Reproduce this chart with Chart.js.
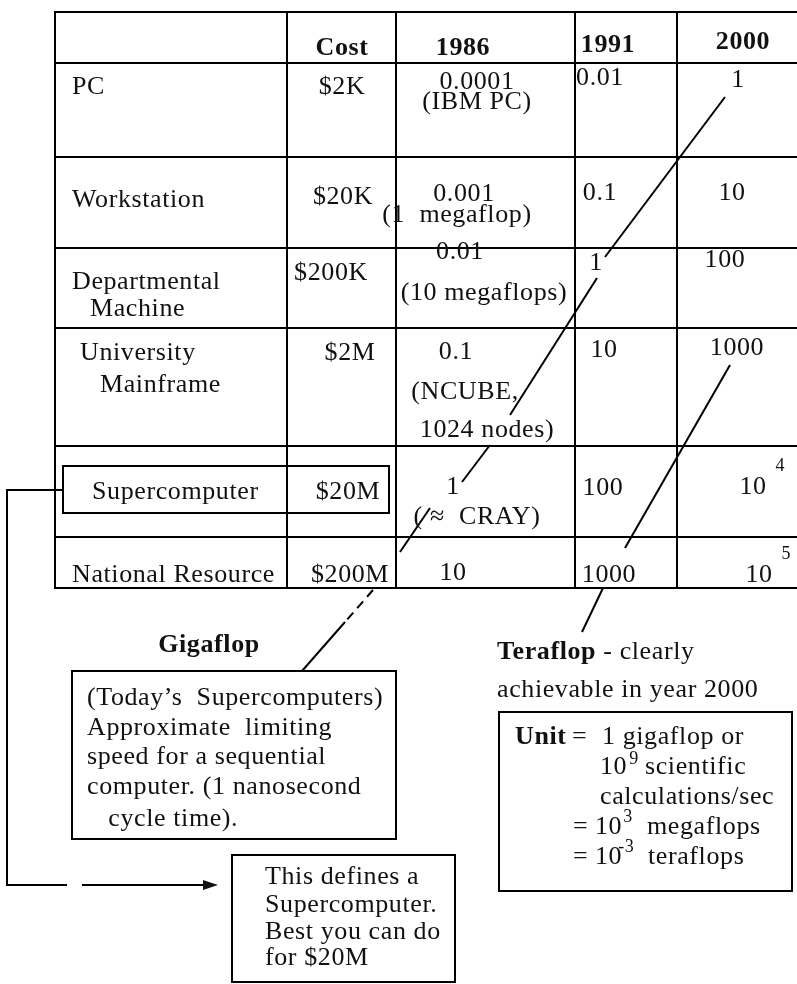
<!DOCTYPE html>
<html lang="en">
<head>
<meta charset="UTF-8" />
<title>Supercomputer speed table</title>
<style>
  body { margin: 0; padding: 0; background: #fff; }
  canvas { display: block; }
</style>
</head>
<body>
<canvas id="speed-table" width="797" height="984"></canvas>
<script src="https://cdn.jsdelivr.net/npm/chart.js"></script>
<script>
// table content
var headers = ["Cost", "1986", "1991", "2000"];
var machines = [["PC"], ["Workstation"], ["Departmental", "Machine"], ["University", "Mainframe"], ["Supercomputer"], ["National Resource"]];
var costs = ["$2K", "$20K", "$200K", "$2M", "$20M", "$200M"];
var speed1986 = ["0.0001", "0.001", "0.01", "0.1", "1", "10"];
var notes1986 = [["(IBM PC)"], ["(1  megaflop)"], ["(10 megaflops)"], ["(NCUBE,", "1024 nodes)"], ["( \u2248  CRAY)"], []];
var speed1991 = ["0.01", "0.1", "1", "10", "100", "1000"];
var speed2000 = ["1", "10", "100", "1000", "10^4", "10^5"];

// side notes
var gigaTitle = "Gigaflop";
var gigaNote = ["(Today\u2019s  Supercomputers)", "Approximate  limiting", "speed for a sequential", "computer. (1 nanosecond", "   cycle time)."];
var superNote = ["This defines a", "Supercomputer.", "Best you can do", "for $20M"];
var teraTitle = ["Teraflop", " - clearly"];
var teraNote = "achievable in year 2000";

// layout (data units of the two linear scales)
var colEdges = [55, 287, 396, 575, 677];
var rowEdges = [12, 63, 157, 248, 328, 446, 537, 588];
var headerPos = [[342, 48], [463, 48], [608, 45], [743, 42]];
var namePos = [[[72, 87]], [[72, 200]], [[72, 282], [90, 309]], [[80, 353], [100, 385]], [[92, 492]], [[72, 575]]];
var costPos = [[342, 87], [343, 197], [331, 273], [350, 353], [348, 492], [350, 575]];
var pos1986 = [[477, 82], [464, 194], [460, 252], [456, 352], [453, 487], [453, 573]];
var notePos1986 = [[[477, 102]], [[457, 215]], [[484, 293]], [[465, 392], [487, 430]], [[477, 517]], []];
var pos1991 = [[600, 78], [600, 193], [596, 263], [604, 350], [603, 488], [609, 575]];
var pos2000 = [[738, 80], [732, 193], [725, 260], [737, 348], [753, 487], [759, 575]];

var gigaLine = [
  [[725, 97], [605, 257]],
  [[597, 278], [510, 415]],
  [[490, 445], [462, 482]],
  [[430, 508], [400, 552]],
  [[345, 622], [302, 671]]
];
var gigaDash = [[373, 590], [345, 622]];
var teraLine = [
  [[730, 365], [625, 548]],
  [[603, 588], [582, 632]]
];
var connector = [[[63, 490], [7, 490], [7, 885], [67, 885]], [[82, 885], [207, 885]]];

var FONT = '"Liberation Serif", "Times New Roman", serif';

function toPoints(seg) {
  return seg.map(function (p) { return { x: p[0], y: p[1] }; });
}

var datasets = [];
gigaLine.concat(teraLine).concat(connector).forEach(function (seg) {
  datasets.push({ data: toPoints(seg), showLine: true, borderColor: "#000", borderWidth: 2, pointRadius: 0, clip: false, tension: 0 });
});
datasets.push({ data: toPoints(gigaDash), showLine: true, borderColor: "#000", borderWidth: 2, borderDash: [9, 6], pointRadius: 0, clip: false });

var tableText = {
  id: "tableText",
  afterDraw: function (chart) {
    var ctx = chart.ctx;
    var xs = chart.scales.x, ys = chart.scales.y;
    function X(v) { return xs.getPixelForValue(v); }
    function Y(v) { return ys.getPixelForValue(v); }

    function text(str, p, align, weight, size) {
      ctx.font = (weight || "normal") + " " + (size || 26) + "px " + FONT;
      ctx.textAlign = align || "left";
      ctx.fillText(str, X(p[0]), Y(p[1]));
    }
    // "10^4" style value: base placed at p, exponent raised to the right
    function power(str, p, align, gap, raise) {
      var parts = str.split("^");
      ctx.font = "normal 26px " + FONT;
      var w = ctx.measureText(parts[0]).width;
      var left = align === "center" ? X(p[0]) - w / 2 : X(p[0]);
      ctx.textAlign = "left";
      ctx.fillText(parts[0], left, Y(p[1]));
      if (parts[1]) {
        ctx.font = "normal 18px " + FONT;
        ctx.fillText(parts[1], left + w + gap, Y(p[1]) - raise);
      }
    }
    function box(x1, y1, x2, y2) {
      ctx.strokeRect(X(x1), Y(y1), X(x2) - X(x1), Y(y2) - Y(y1));
    }

    ctx.save();
    ctx.fillStyle = "#111";
    ctx.strokeStyle = "#000";
    ctx.lineWidth = 2;
    ctx.textBaseline = "middle";
    ctx.letterSpacing = "0.6px";

    headers.forEach(function (h, i) { text(h, headerPos[i], "center", "bold"); });
    machines.forEach(function (lines, r) {
      lines.forEach(function (l, k) { text(l, namePos[r][k], "left"); });
      text(costs[r], costPos[r], "center");
      text(speed1986[r], pos1986[r], "center");
      notes1986[r].forEach(function (n, k) { text(n, notePos1986[r][k], "center"); });
      text(speed1991[r], pos1991[r], "center");
      power(speed2000[r], pos2000[r], "center", 9, 21);
    });

    // highlight around the supercomputer row
    box(63, 466, 389, 513);

    // arrow head of the connector
    ctx.beginPath();
    ctx.moveTo(X(218), Y(885));
    ctx.lineTo(X(203), Y(880));
    ctx.lineTo(X(203), Y(890));
    ctx.closePath();
    ctx.fill();

    // gigaflop note
    text(gigaTitle, [209, 645], "center", "bold");
    box(72, 671, 396, 839);
    var gy = [698, 728, 757, 787, 819];
    gigaNote.forEach(function (l, i) { text(l, [87, gy[i]], "left"); });

    // supercomputer definition
    box(232, 855, 455, 982);
    var sy = [877, 905, 932, 958];
    superNote.forEach(function (l, i) { text(l, [265, sy[i]], "left"); });

    // teraflop note
    text(teraTitle[0], [497, 652], "left", "bold");
    ctx.font = "bold 26px " + FONT;
    var tw = ctx.measureText(teraTitle[0]).width;
    ctx.font = "normal 26px " + FONT;
    ctx.textAlign = "left";
    ctx.fillText(teraTitle[1], X(497) + tw, Y(652));
    text(teraNote, [497, 690], "left");

    // unit box
    box(499, 712, 792, 891);
    text("Unit", [515, 737], "left", "bold");
    text("=", [572, 737], "left");
    text("1 gigaflop or", [602, 737], "left");
    power("10^9", [600, 767], "left", 2, 8);
    text("scientific", [645, 767], "left");
    text("calculations/sec", [600, 797], "left");
    text("=", [573, 827], "left");
    power("10^3", [595, 827], "left", 1, 10);
    text("megaflops", [647, 827], "left");
    text("=", [573, 857], "left");
    power("10^-3", [595, 857], "left", -4, 10);
    text("teraflops", [648, 857], "left");

    ctx.restore();
  }
};

new Chart(document.getElementById("speed-table"), {
  type: "scatter",
  data: { datasets: datasets },
  plugins: [tableText],
  options: {
    responsive: false,
    animation: false,
    layout: { padding: { left: 55, top: 12, right: 0, bottom: 396 } },
    plugins: { legend: { display: false }, tooltip: { enabled: false } },
    scales: {
      x: {
        type: "linear", min: 55, max: 797,
        ticks: { display: false },
        grid: { color: "#000", lineWidth: 2, drawTicks: false },
        border: { display: true, color: "#000", width: 2 },
        afterBuildTicks: function (s) { s.ticks = colEdges.map(function (v) { return { value: v }; }); }
      },
      y: {
        type: "linear", min: 12, max: 588, reverse: true,
        ticks: { display: false },
        grid: { color: "#000", lineWidth: 2, drawTicks: false },
        border: { display: true, color: "#000", width: 2 },
        afterBuildTicks: function (s) { s.ticks = rowEdges.map(function (v) { return { value: v }; }); }
      }
    }
  }
});
</script>
</body>
</html>
